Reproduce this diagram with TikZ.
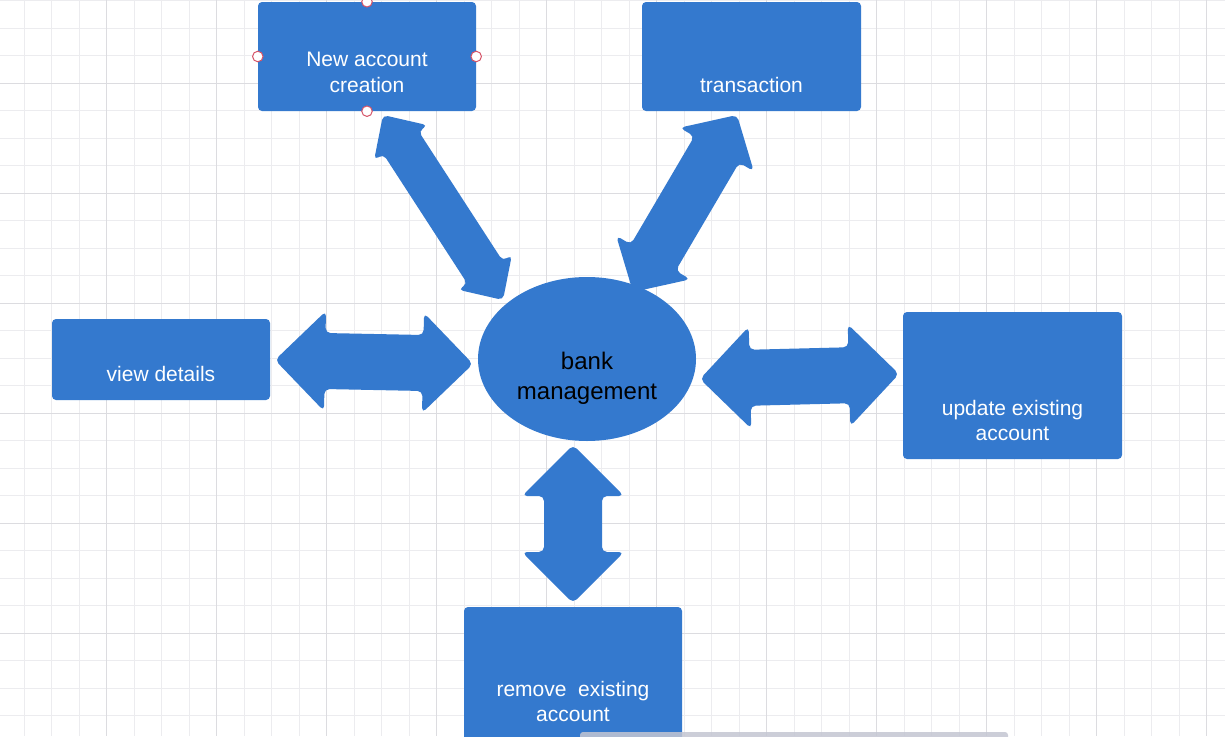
\documentclass[tikz,border=0pt]{standalone}
\usepackage{fontspec}
\setmainfont{Liberation Sans}
\usetikzlibrary{positioning, shapes.geometric, calc}

\definecolor{boxblue}{RGB}{52,121,206}
\definecolor{gridlight}{RGB}{236,236,239}
\definecolor{griddark}{RGB}{220,220,224}
\definecolor{handlered}{RGB}{214,84,104}
\definecolor{scrollgray}{RGB}{196,198,210}

% block double arrow: from, to, head length, head half width, shaft half width
\newcommand{\twowayarrow}[5]{%
  \fill[arrowblock] (#1)
    -- ($(#1)!#3!(#2)!#4!90:(#2)$) -- ($(#1)!#3!(#2)!#5!90:(#2)$)
    -- ($(#2)!#3!(#1)!#5!-90:(#1)$) -- ($(#2)!#3!(#1)!#4!-90:(#1)$)
    -- (#2)
    -- ($(#2)!#3!(#1)!#4!90:(#1)$) -- ($(#2)!#3!(#1)!#5!90:(#1)$)
    -- ($(#1)!#3!(#2)!#5!-90:(#2)$) -- ($(#1)!#3!(#2)!#4!-90:(#2)$)
    -- cycle;}

\begin{document}
\begin{tikzpicture}[
  x=1pt, y=-1pt,
  blockbox/.style={fill=boxblue, rounded corners=4pt, inner sep=0pt},
  boxtext/.style={text=white, align=center, font=\fontsize{21}{25.5}\selectfont},
  hubtext/.style={text=black, align=center, font=\fontsize{24}{30}\selectfont},
  arrowblock/.style={fill=boxblue, rounded corners=5pt},
  handle/.style={circle, draw=handlered, fill=white, line width=1pt, minimum size=10.5pt, inner sep=0pt},
  gridminor/.style={gridlight, line width=0.8pt},
  gridmajor/.style={griddark, line width=1pt}
]
\useasboundingbox (0,0) rectangle (1225,736);
\clip (0,0) rectangle (1225,736);
\fill[white] (0,0) rectangle (1225,736);

% Grid
\foreach \k in {0,...,44} \draw[gridminor] ({24.2+27.5*\k},0) -- ++(0,736);
\foreach \k in {0,...,27} \draw[gridminor] (0,{0.8+27.5*\k}) -- ++(1225,0);
\foreach \k in {0,...,10} \draw[gridmajor] ({106.7+110*\k},0) -- ++(0,736);
\foreach \k in {0,...,5} \draw[gridmajor] (0,{83.3+110*\k}) -- ++(1225,0);

% Boxes
\node[blockbox, minimum width=218pt, minimum height=109pt] (newacc) at (367,56.5) {};
\node[blockbox, minimum width=219pt, minimum height=109pt] (trans) at (751.5,56.5) {};
\node[blockbox, minimum width=218pt, minimum height=81pt] (view) at (161,359.5) {};
\node[blockbox, minimum width=219pt, minimum height=147pt] (update) at (1012.5,385.5) {};
\node[blockbox, minimum width=218pt, minimum height=150pt] (remove) at (573,682) {};

\node[boxtext] (newacc-t) at (367,72.5) {New account\\creation};
\node[boxtext] (trans-t) at (751.5,84.5) {transaction};
\node[boxtext] (view-t) at (161,374) {view details};
\node[boxtext] (update-t) at (1012.5,420.5) {update existing\\account};
\node[boxtext] (remove-t) at (573,701.5) {remove~ existing\\account};

% Arrows
\coordinate (na-a) at (383,115);  \coordinate (na-b) at (503,300);
\coordinate (tr-a) at (737,115);  \coordinate (tr-b) at (633,292);
\coordinate (vd-a) at (275,360);  \coordinate (vd-b) at (473,364);
\coordinate (up-a) at (700,379);  \coordinate (up-b) at (899,374);
\coordinate (rm-a) at (573,445);  \coordinate (rm-b) at (573,603);

\twowayarrow{na-a}{na-b}{33pt}{32pt}{21pt}
\twowayarrow{tr-a}{tr-b}{40pt}{43pt}{26pt}
\twowayarrow{vd-a}{vd-b}{50pt}{50pt}{28pt}
\twowayarrow{up-a}{up-b}{50pt}{51pt}{28pt}
\twowayarrow{rm-a}{rm-b}{51pt}{51pt}{29pt}

% Hub
\node[ellipse, fill=boxblue, minimum width=218pt, minimum height=164pt, inner sep=0pt] (bank) at (587,359) {};
\node[hubtext] (bank-t) at (587,378) {bank\\management};

% Selection handles
\node[handle] (h-n) at (newacc.north) {};
\node[handle] (h-w) at (newacc.west) {};
\node[handle] (h-e) at (newacc.east) {};
\node[handle] (h-s) at (newacc.south) {};

% Scroll bar
\fill[scrollgray, opacity=0.85, rounded corners=3pt] (580,732) rectangle (1008,744);
\end{tikzpicture}
\end{document}
